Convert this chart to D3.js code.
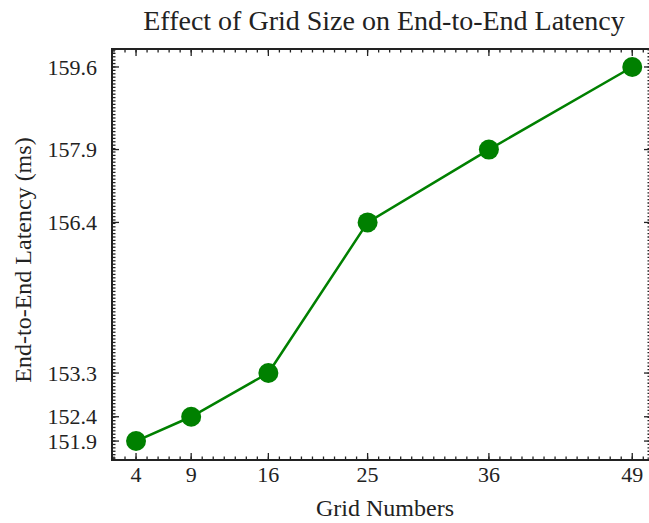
<!DOCTYPE html>
<html>
<head>
<meta charset="utf-8">
<script src="https://cdn.jsdelivr.net/npm/d3@7"></script>
<style>
  body { margin: 0; background: #fff; }
  text { font-family: "Liberation Serif", "DejaVu Serif", serif; fill: #222; }
</style>
</head>
<body>
<div id="grafico"></div>
<script>
    var gridNumbers = [4, 9, 16, 25, 36, 49];
    var latencias = [151.9, 152.4, 153.3, 156.4, 157.9, 159.6];
    var yTickValues = [151.9, 152.4, 153.3, 156.4, 157.9, 159.6];

    var svgWidth = 649;
    var svgHeight = 523;

    var svg = d3.select("#grafico")
      .append("svg")
      .attr("width", svgWidth)
      .attr("height", svgHeight);

    var margin = { top: 49, right: -2, bottom: 63, left: 112 };
    var chartWidth = svgWidth - margin.left - margin.right;
    var chartHeight = svgHeight - margin.top - margin.bottom;

    var xScale = d3.scaleLinear()
      .domain([1.82, 50.7])
      .range([0, chartWidth]);

    var yScale = d3.scaleLinear()
      .domain([151.51, 159.97])
      .range([chartHeight, 0]);

    var chart = svg.append("g")
      .attr("transform", "translate(" + margin.left + "," + margin.top + ")");

    // minor ticks
    var xMinor = d3.range(2, 51, 1);
    var yMinor = d3.range(151.55, 159.97, 0.07);

    function drawTicks(vals, scale, horizontal, len) {
      vals.forEach(function (v) {
        var p = scale(v);
        if (horizontal) {
          chart.append("line").attr("x1", p).attr("x2", p)
            .attr("y1", chartHeight).attr("y2", chartHeight - len)
            .attr("stroke", "#222").attr("stroke-width", 1.3);
          chart.append("line").attr("x1", p).attr("x2", p)
            .attr("y1", 0).attr("y2", len)
            .attr("stroke", "#222").attr("stroke-width", 1.3);
        } else {
          chart.append("line").attr("y1", p).attr("y2", p)
            .attr("x1", 0).attr("x2", len)
            .attr("stroke", "#222").attr("stroke-width", 1.3);
          chart.append("line").attr("y1", p).attr("y2", p)
            .attr("x1", chartWidth).attr("x2", chartWidth - len)
            .attr("stroke", "#222").attr("stroke-width", 1.3);
        }
      });
    }
    drawTicks(xMinor, xScale, true, 3.5);
    drawTicks(yMinor, yScale, false, 3.5);
    drawTicks(gridNumbers, xScale, true, 7);
    drawTicks(yTickValues, yScale, false, 7);

    chart.append("rect")
      .attr("width", chartWidth)
      .attr("height", chartHeight)
      .attr("fill", "none")
      .attr("stroke", "#222")
      .attr("stroke-width", 2);

    // tick labels
    chart.selectAll(".xlab")
      .data(gridNumbers)
      .enter()
      .append("text")
      .attr("x", d => xScale(d))
      .attr("y", chartHeight + 22)
      .attr("text-anchor", "middle")
      .attr("font-size", 22)
      .text(d => d);

    chart.selectAll(".ylab")
      .data(yTickValues)
      .enter()
      .append("text")
      .attr("x", -15)
      .attr("y", d => yScale(d))
      .attr("dy", "0.35em")
      .attr("text-anchor", "end")
      .attr("font-size", 22)
      .text(d => d.toFixed(1));

    var line = d3.line()
      .x((d, i) => xScale(gridNumbers[i]))
      .y(d => yScale(d));

    chart.append("path")
      .datum(latencias)
      .attr("d", line)
      .attr("fill", "none")
      .attr("stroke", "#008000")
      .attr("stroke-width", 2.5);

    chart.selectAll(".punto")
      .data(latencias)
      .enter()
      .append("circle")
      .attr("cx", (d, i) => xScale(gridNumbers[i]))
      .attr("cy", d => yScale(d))
      .attr("r", 10)
      .attr("fill", "#008000");

    svg.append("text")
      .attr("x", 384)
      .attr("y", 30)
      .attr("text-anchor", "middle")
      .attr("font-size", 28)
      .text("Effect of Grid Size on End-to-End Latency");

    svg.append("text")
      .attr("x", 385)
      .attr("y", 516)
      .attr("text-anchor", "middle")
      .attr("font-size", 24)
      .text("Grid Numbers");

    svg.append("text")
      .attr("transform", "translate(31,260) rotate(-90)")
      .attr("text-anchor", "middle")
      .attr("font-size", 24)
      .text("End-to-End Latency (ms)");
</script>
</body>
</html>
